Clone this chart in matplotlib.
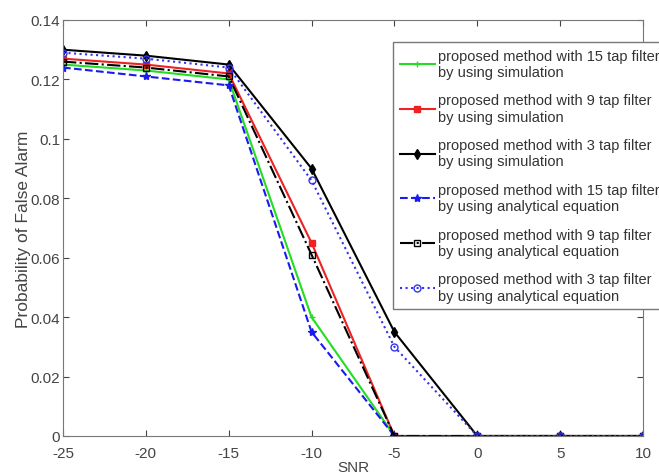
import matplotlib
matplotlib.use("Agg")
import matplotlib.pyplot as plt

plt.rcParams["font.family"] = ["Liberation Sans", "DejaVu Sans"]
plt.rcParams["axes.unicode_minus"] = False

snr = [-25, -20, -15, -10, -5, 0, 5, 10]

# probability of false alarm per curve
sim_15 = [0.125, 0.123, 0.120, 0.040, 0.0, 0.0, 0.0, 0.0]
sim_9 = [0.127, 0.125, 0.122, 0.065, 0.0, 0.0, 0.0, 0.0]
sim_3 = [0.130, 0.128, 0.125, 0.090, 0.035, 0.0, 0.0, 0.0]
ana_15 = [0.124, 0.121, 0.118, 0.035, 0.0, 0.0, 0.0, 0.0]
ana_9 = [0.126, 0.124, 0.121, 0.061, 0.0, 0.0, 0.0, 0.0]
ana_3 = [0.129, 0.127, 0.124, 0.086, 0.030, 0.0, 0.0, 0.0]

labels = [
    "proposed method with 15 tap filter\nby using simulation",
    "proposed method with 9 tap filter\nby using simulation",
    "proposed method with 3 tap filter\nby using simulation",
    "proposed method with 15 tap filter\nby using analytical equation",
    "proposed method with 9 tap filter\nby using analytical equation",
    "proposed method with 3 tap filter\nby using analytical equation",
]

fig = plt.figure(figsize=(6.59, 4.77), dpi=100)
ax = fig.add_axes([63 / 659, 1 - 437 / 477, (643 - 63) / 659, (437 - 21) / 477])

ax.plot(snr, sim_15, color="#22dd22", linestyle="-", marker="+", ms=5, lw=1.5, label=labels[0])
ax.plot(snr, sim_9, color="#ee2222", linestyle="-", marker="s", ms=4, lw=1.5, label=labels[1])
ax.plot(snr, sim_3, color="black", linestyle="-", marker="d", ms=5, lw=1.5, label=labels[2])
ax.plot(snr, ana_15, color="#1a1aee", linestyle="--", marker="*", ms=6, lw=1.5, label=labels[3])
ax.plot(snr, ana_9, color="black", linestyle="-.", marker="s", ms=5, mfc="none", lw=1.5, label=labels[4])
ax.plot(snr, ana_3, color="#3333ee", linestyle=":", marker="o", ms=5, mfc="none", lw=1.5, label=labels[5])

ax.set_xlim(-25, 10)
ax.set_ylim(0, 0.14)
ax.set_xticks(snr)
ax.set_yticks([0, 0.02, 0.04, 0.06, 0.08, 0.1, 0.12, 0.14])
ax.set_yticklabels(["0", "0.02", "0.04", "0.06", "0.08", "0.1", "0.12", "0.14"])
ax.tick_params(direction="in", top=True, right=True, labelsize=11, colors="#444444", length=4)
ax.tick_params(axis="x", pad=7)
ax.tick_params(axis="y", pad=2)
for s in ax.spines.values():
    s.set_color("#777777")

ax.set_xlabel("SNR", fontsize=11, color="#444444", labelpad=0)
ax.set_ylabel("Probability of False Alarm", fontsize=12.5, color="#444444", labelpad=0)

leg = ax.legend(
    loc="upper left",
    bbox_to_anchor=(393 / 659, 1 - 43 / 477),
    bbox_transform=fig.transFigure,
    fontsize=10.5,
    fancybox=False,
    edgecolor="#777777",
    framealpha=1,
    handlelength=2.4,
    handletextpad=0.25,
    labelspacing=1.0,
    borderpad=0.45,
    borderaxespad=0,
)
for t in leg.get_texts():
    t.set_color("#333333")

fig.savefig("out.png", dpi=100)
